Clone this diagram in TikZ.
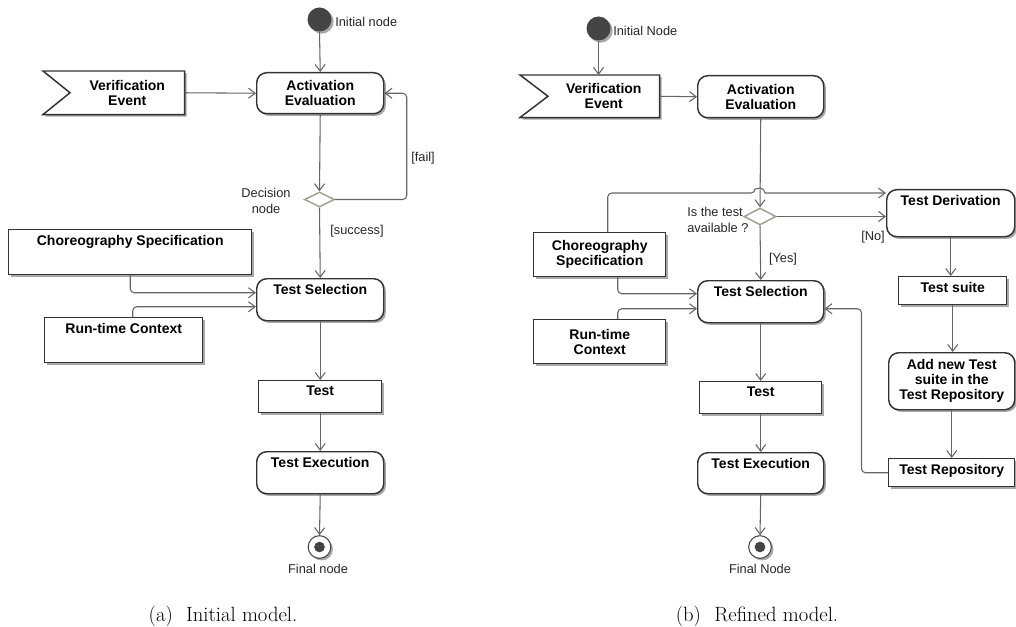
\documentclass[tikz,border=0pt]{standalone}
\usepackage{fontspec}
\newfontfamily\diagfont{Liberation Sans}
\usetikzlibrary{arrows.meta,shapes.geometric,shadows,calc}
\pgfdeclarelayer{background}
\pgfsetlayers{background,main}
\definecolor{linegray}{HTML}{666666}
\definecolor{boxline}{HTML}{333333}
\definecolor{diamondline}{HTML}{A0A090}
\definecolor{nodefill}{HTML}{444444}
\definecolor{shadowgray}{HTML}{A8A8A8}

\begin{document}
\begin{tikzpicture}[x=0.75pt, y=-0.75pt,
  wh/.style 2 args={minimum width=#1*0.75pt, minimum height=#2*0.75pt},
  boxfont/.style={font=\diagfont\bfseries\fontsize{10.5}{11.3}\selectfont, text=black},
  lblfont/.style={font=\diagfont\fontsize{9.6}{12}\selectfont, text=black!85, inner sep=0pt},
  shade/.style={drop shadow={shadow xshift=1.6pt, shadow yshift=-1.6pt, fill=shadowgray, opacity=1}},
  objbox/.style={draw=boxline, line width=1.1pt, fill=white, shade, boxfont, align=center, inner sep=0pt, anchor=north west},
  actbox/.style={objbox, rounded corners=7.5pt},
  toptext/.style={label={[boxfont, align=center, anchor=north, inner sep=0pt, yshift=-4.5pt]north:{#1}}},
  signalbox/.style={draw=boxline, line width=1.1pt, fill=white, shade, line join=miter},
  initnode/.style={circle, fill=nodefill, inner sep=0pt, minimum size=18pt, shade},
  finalnode/.style={circle, draw=black!70, line width=0.8pt, fill=white, inner sep=0pt, minimum size=17pt, shade,
    path picture={\fill[nodefill] (path picture bounding box.center) circle[radius=4pt];}},
  decision/.style={diamond, draw=diamondline, line width=1.1pt, fill=white, inner sep=0pt},
  flow/.style={draw=linegray, line width=0.8pt, rounded corners=3pt,
    -{Straight Barb[length=5pt, width=7.5pt, line width=0.8pt]}},
  caption/.style={font=\fontsize{15.5}{19}\selectfont, anchor=base, inner sep=0pt}
]
\useasboundingbox (0,0) rectangle (1016,627);

% ---------------- (a) initial model ----------------
\node[initnode] (init_a) at (319.5,19.5) {};
\node[lblfont, anchor=west] (init_a_lbl) at (335,22) {Initial node};
\node[actbox, wh={127}{41}] (ae_a) at (256,72) {Activation\\Evaluation};
\node[boxfont, align=center, inner sep=0pt, wh={114}{43}, anchor=north west] (ve_a) at (70,71) {Verification\\Event};
\node[decision, wh={30}{15}] (dec_a) at (319.5,199.5) {};
\node[lblfont, align=center] (dec_a_lbl) at (266,201) {Decision\\node};
\node[objbox, wh={243}{45}, toptext={Choreography Specification}] (cs_a) at (8,229) {};
\node[objbox, wh={158}{45}, toptext={Run-time Context}] (rc_a) at (44,317) {};
\node[actbox, wh={127}{42}, toptext={Test Selection}] (ts_a) at (256,278) {};
\node[objbox, wh={123}{32}, toptext={Test}] (test_a) at (258,380) {};
\node[actbox, wh={127}{42}, toptext={Test Execution}] (te_a) at (256,451) {};
\node[finalnode] (fin_a) at (319.5,547) {};
\node[lblfont] (fin_a_lbl) at (318,569) {Final node};

\begin{pgfonlayer}{background}
  \draw[signalbox] (ve_a.north east) -- ($(ve_a.north west)+(-27,0)$) -- (ve_a.west)
    -- ($(ve_a.south west)+(-27,0)$) -- (ve_a.south east) -- cycle;
\end{pgfonlayer}

\draw[flow] (init_a.south) -- (ae_a.north);
\draw[flow] (ve_a.east) -- (ae_a.west);
\draw[flow] (ae_a.south) -- (dec_a.north);
\draw[flow] (dec_a.east) -- ++(71.5,0) |- (ae_a.east);
\node[lblfont] (fail_lbl) at (423,158) {[fail]};
\draw[flow] (dec_a.south) -- (ts_a.north);
\node[lblfont] (succ_lbl) at (357,231) {[success]};
\draw[flow] (cs_a.south) |- ($(ts_a.west)+(0,-7)$);
\draw[flow] ($(rc_a.north)+(9,0)$) |- ($(ts_a.west)+(0,7)$);
\draw[flow] (ts_a.south) -- (test_a.north);
\draw[flow] (test_a.south) -- (te_a.north);
\draw[flow] (te_a.south) -- (fin_a.north);

% ---------------- (b) refined model ----------------
\node[initnode] (init_b) at (598.5,28.5) {};
\node[lblfont, anchor=west] (init_b_lbl) at (613,31) {Initial Node};
\node[boxfont, align=center, inner sep=0pt, wh={111}{42}, anchor=north west] (ve_b) at (548,75) {Verification\\Event};
\node[actbox, wh={126}{42}] (ae_b) at (697,75) {Activation\\Evaluation};
\node[decision, wh={32}{17}] (dec_b) at (760,216.5) {};
\node[lblfont, align=left, anchor=west] (dec_b_lbl) at (687,219.5) {Is the test\\available ?};
\node[actbox, wh={128}{47}, toptext={Test Derivation}] (td_b) at (886,189) {};
\node[objbox, wh={132}{44}] (cs_b) at (533,232) {Choreography\\Specification};
\node[objbox, wh={132}{44}] (rc_b) at (533,319) {Run-time\\Context};
\node[actbox, wh={126}{42}, toptext={Test Selection}] (ts_b) at (697,280) {};
\node[objbox, wh={108}{28}, toptext={Test suite}] (suite_b) at (898,276) {};
\node[actbox, wh={126}{57}] (add_b) at (888,352) {Add new Test\\suite in the\\Test Repository};
\node[objbox, wh={126}{28}, toptext={Test Repository}] (tr_b) at (888,458) {};
\node[objbox, wh={122}{32}, toptext={Test}] (test_b) at (699,381) {};
\node[actbox, wh={126}{41}, toptext={Test Execution}] (te_b) at (697,452) {};
\node[finalnode] (fin_b) at (760,547) {};
\node[lblfont] (fin_b_lbl) at (760,569) {Final Node};

\begin{pgfonlayer}{background}
  \draw[signalbox] (ve_b.north east) -- ($(ve_b.north west)+(-28,0)$) -- (ve_b.west)
    -- ($(ve_b.south west)+(-28,0)$) -- (ve_b.south east) -- cycle;
\end{pgfonlayer}

\draw[flow] (init_b.south) -- (init_b.south |- ve_b.north);
\draw[flow] (ve_b.east) -- (ae_b.west);
\draw[flow] (ae_b.south) -- (dec_b.north);
% the specification also feeds the derivation; the line hops over the flow above
\draw[flow] ($(cs_b.north)+(8,0)$) |- (755,193) [sharp corners]
  arc[start angle=180, end angle=360, radius=5] -- (td_b.west |- 0,193);
\draw[flow] (dec_b.east) -- (td_b.west |- dec_b.east);
\node[lblfont] (no_lbl) at (873,237) {[No]};
\draw[flow] (dec_b.south) -- (ts_b.north);
\node[lblfont] (yes_lbl) at (783,259) {[Yes]};
\draw[flow] ($(cs_b.south)+(18,0)$) |- ($(ts_b.west)+(0,-8)$);
\draw[flow] ($(rc_b.north)+(18,0)$) |- ($(ts_b.west)+(0,7)$);
\draw[flow] (td_b.south) -- (td_b.south |- suite_b.north);
\draw[flow] (suite_b.south) -- (suite_b.south |- add_b.north);
\draw[flow] (add_b.south) -- (add_b.south |- tr_b.north);
\draw[flow] (tr_b.west) -| ($(ts_b.east)+(37,7)$) -- ($(ts_b.east)+(0,7)$);
\draw[flow] (ts_b.south) -- (test_b.north);
\draw[flow] (test_b.south) -- (te_b.north);
\draw[flow] (te_b.south) -- (fin_b.north);

% ---------------- captions ----------------
\node[caption] (cap_a) at (223,621) {(a)\hskip 10pt Initial model.};
\node[caption] (cap_b) at (757,621) {(b)\hskip 10pt Refined model.};
\end{tikzpicture}
\end{document}
